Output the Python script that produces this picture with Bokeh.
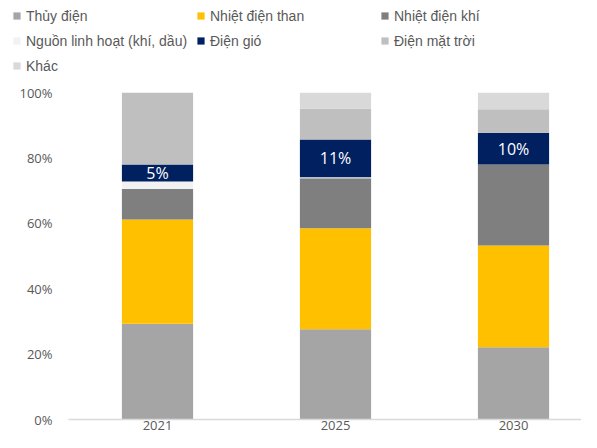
from bokeh.plotting import figure
from bokeh.layouts import column
from bokeh.models import (ColumnDataSource, Range1d, FixedTicker, PrintfTickFormatter,
                          Legend, LegendItem)
from bokeh.core.properties import value
from bokeh.embed import file_html
from bokeh.resources import INLINE

years = ["2021", "2025", "2030"]
series = ["Thủy điện", "Nhiệt điện than", "Nhiệt điện khí", "Nguồn linh hoạt (khí, dầu)",
          "Điện gió", "Điện mặt trời", "Khác"]
hydro = [29.3, 27.6, 22.1]
coal = [31.9, 30.9, 31.1]
gas = [9.3, 15.3, 24.8]
flexible = [2.3, 0.3, 0.0]
wind = [5.2, 11.5, 9.7]
solar = [22.0, 9.4, 7.2]
other = [0.0, 5.0, 5.1]
wind_labels = ["5%", "11%", "10%"]
colors = ["#a5a5a5", "#ffc000", "#7f7f7f", "#f2f2f2", "#002060", "#bfbfbf", "#d9d9d9"]
y_ticks = [0, 20, 40, 60, 80, 100]

keys = ["hydro", "coal", "gas", "flexible", "wind", "solar", "other"]
xs = list(range(len(years)))
data = dict(x=xs, hydro=hydro, coal=coal, gas=gas, flexible=flexible, wind=wind,
            solar=solar, other=other)
base = [h + c + g + f for h, c, g, f in zip(hydro, coal, gas, flexible)]
data["label_y"] = [b + w / 2 for b, w in zip(base, wind)]
data["label"] = wind_labels
source = ColumnDataSource(data)

# ---- legend strip (its renderers sit outside its visible range) ----
lf = figure(width=581, height=80, output_backend="svg", toolbar_location=None,
            x_range=Range1d(100, 101), y_range=Range1d(100, 101),
            x_axis_type=None, y_axis_type=None, min_border=0)
lf.outline_line_color = None
lrs = lf.vbar_stack(keys, x="x", width=0.4, color=colors, line_color=None, source=source)
items = [LegendItem(label=s, renderers=[r]) for s, r in zip(series, lrs)]

aligned = True
try:
    lf.frame_align = False
    aligned = False
except Exception:
    pass
legend_x = 12 if not aligned else 12 - 68

legend = Legend(items=items, orientation="horizontal", ncols=3, location=(legend_x, 6),
                glyph_width=9, glyph_height=9, label_standoff=5,
                label_width=162, label_height=17, spacing=8, padding=0, margin=0,
                border_line_color=None, background_fill_alpha=0,
                label_text_font="Arial", label_text_font_size="14px",
                label_text_color="#595959")
lf.add_layout(legend, "center")

# ---- chart ----
p = figure(width=581, height=352, output_backend="svg", toolbar_location=None,
           x_range=Range1d(-0.5, 2.382), y_range=Range1d(0, 100),
           min_border_left=68, min_border_right=0, min_border_top=12, min_border_bottom=0)
p.outline_line_color = None
p.xgrid.visible = False
p.ygrid.visible = False
if not aligned:
    p.frame_align = False

p.vbar_stack(keys, x="x", width=0.4, color=colors, line_color=None, source=source)

p.text(x="x", y="label_y", text="label", source=source, text_color="white",
       text_font=value("Open Sans"), text_font_size="16px",
       text_align="center", text_baseline="middle")

p.yaxis.ticker = FixedTicker(ticks=y_ticks)
p.yaxis.formatter = PrintfTickFormatter(format="%d%%")
p.yaxis.axis_line_color = None
p.yaxis.major_tick_line_color = None
p.yaxis.minor_tick_line_color = None
p.yaxis.major_tick_out = 0
p.yaxis.major_tick_in = 0
p.yaxis.major_label_standoff = 16
p.yaxis.major_label_text_font = "Open Sans"
p.yaxis.major_label_text_font_size = "13px"
p.yaxis.major_label_text_color = "#595959"

p.xaxis.ticker = FixedTicker(ticks=xs)
p.xaxis.major_label_overrides = {i: y for i, y in zip(xs, years)}
p.xaxis.axis_line_color = "#d9d9d9"
p.xaxis.axis_line_width = 1.5
p.xaxis.major_tick_line_color = None
p.xaxis.minor_tick_line_color = None
p.xaxis.major_tick_out = 0
p.xaxis.major_tick_in = 0
p.xaxis.major_label_standoff = 1
p.xaxis.major_label_text_font = "Open Sans"
p.xaxis.major_label_text_font_size = "13px"
p.xaxis.major_label_text_color = "#595959"

layout = column(lf, p, spacing=0)
open("out.html", "w").write(file_html(layout, INLINE))
